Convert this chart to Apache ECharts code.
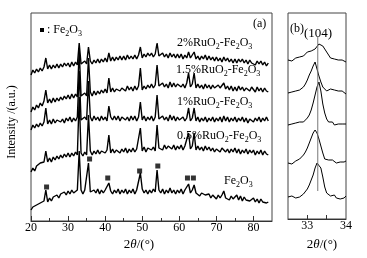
<!DOCTYPE html>
<html><head><meta charset="utf-8">
<script src="https://cdn.jsdelivr.net/npm/echarts@6/dist/echarts.min.js"></script>
<style>html,body{margin:0;padding:0;background:#fff}#c{width:367px;height:258px}</style>
</head><body><div id="c"></div>
<script>
// ---------- Panel (a) data ----------
const twoTheta = [
 20,20.5,21,21.5,22,22.5,23,23.5,24,24.5,
 25,25.5,26,26.5,27,27.5,28,28.5,29,29.5,
 30,30.5,31,31.5,32,32.5,33,33.5,34,34.5,
 35,35.5,36,36.5,37,37.5,38,38.5,39,39.5,
 40,40.5,41,41.5,42,42.5,43,43.5,44,44.5,
 45,45.5,46,46.5,47,47.5,48,48.5,49,49.5,
 50,50.5,51,51.5,52,52.5,53,53.5,54,54.5,
 55,55.5,56,56.5,57,57.5,58,58.5,59,59.5,
 60,60.5,61,61.5,62,62.5,63,63.5,64,64.5,
 65,65.5,66,66.5,67,67.5,68,68.5,69,69.5,
 70,70.5,71,71.5,72,72.5,73,73.5,74,74.5,
 75,75.5,76,76.5,77,77.5,78,78.5,79,79.5,
 80,80.5,81,81.5,82,82.5,83,83.5,84
];
const fe2o3 = [
 11,14,12,16,14,18,16,20,31,19,
 23,20,24,22,26,23,27,25,29,26,
 30,27,31,28,30,31,70,31,27,31,
 32,58,29,28,31,28,32,27,31,28,
 31,29,38,30,27,31,28,32,27,31,
 28,32,27,31,28,32,27,31,30,48,
 32,28,31,27,31,28,32,29,51,31,
 28,32,27,31,28,33,28,31,27,31,
 28,32,27,31,30,37,28,31,36,28,
 29,25,28,26,26,25,27,23,26,24,
 22,26,23,26,30,23,24,21,25,22,
 24,26,21,25,20,24,21,23,20,22,
 23,19,22,18,22,19,21,18,19
];
const ru05 = [
 49,53,50,55,54,58,56,59,70,59,
 63,59,64,61,65,62,66,63,67,64,
 68,64,68,65,69,66,124,68,65,69,
 66,106,70,66,70,67,71,67,70,72,
 68,71,86,68,72,68,71,73,68,72,
 69,73,68,72,69,73,69,72,74,93,
 70,74,69,73,75,71,74,70,96,73,
 75,71,76,72,75,77,72,76,71,75,
 72,76,71,75,75,88,72,75,88,71,
 75,71,74,70,75,71,74,70,73,69,
 72,74,69,73,75,69,72,68,72,69,
 73,68,72,67,71,68,72,67,71,68,
 71,66,70,67,71,66,70,67,66
];
const ru1 = [
 91,96,93,97,94,98,95,99,113,97,
 101,97,102,98,101,103,99,102,98,103,
 100,104,99,103,100,104,150,101,100,104,
 101,140,104,100,105,101,104,100,105,101,
 104,100,115,104,101,105,101,105,100,104,
 105,101,104,100,105,101,105,100,104,119,
 101,105,100,104,101,105,100,104,126,102,
 100,105,101,104,100,106,101,105,100,104,
 101,99,104,100,103,113,100,103,113,100,
 104,99,103,100,104,99,103,100,104,99,
 103,100,104,99,105,100,104,99,103,100,
 104,99,103,100,104,99,103,98,102,104,
 99,103,100,104,99,103,100,104,100
];
const ru15 = [
 109,114,111,116,113,118,115,120,131,118,
 122,118,123,119,123,120,124,121,125,122,
 126,122,127,123,127,124,171,125,124,128,
 125,163,129,125,130,126,130,127,131,128,
 132,128,143,129,133,129,132,134,130,133,
 134,130,135,131,134,130,135,131,135,153,
 131,135,132,136,133,137,133,136,156,135,
 133,138,134,137,133,139,134,138,134,137,
 138,134,137,133,138,148,134,137,148,133,
 137,133,136,132,137,133,136,132,136,133,
 132,136,133,131,138,132,135,131,135,130,
 134,130,135,131,134,130,133,135,130,134,
 133,129,134,130,133,129,133,130,129
];
const ru2 = [
 146,151,148,152,149,153,150,154,163,152,
 156,152,156,153,157,153,157,154,158,155,
 158,154,159,155,159,156,178,157,156,160,
 157,174,160,157,161,158,162,158,162,159,
 163,159,168,160,164,160,164,161,165,161,
 165,161,166,162,165,162,166,162,166,174,
 163,167,164,168,165,168,164,167,178,165,
 164,168,164,167,163,168,164,167,163,167,
 163,167,162,166,163,169,163,166,169,162,
 165,161,165,162,166,161,165,161,164,160,
 164,160,163,159,164,160,163,159,162,158,
 162,158,162,159,162,158,161,157,161,158,
 160,156,160,157,160,156,159,155,158
];
const markerTheta = [24.2, 35.8, 40.7, 49.3, 54.2, 62.2, 63.8];
const markerI = [34, 62, 43, 50, 55, 43, 43];
const xTicksA = [20, 30, 40, 50, 60, 70, 80];
const xMinorA = [25, 35, 45, 55, 65, 75];

// ---------- Panel (b) data ----------
const thetaB = [32.5,32.55,32.6,32.65,32.7,32.75,32.8,32.85,32.9,32.95,
 33,33.05,33.1,33.15,33.2,33.25,33.3,33.35,33.4,33.45,
 33.5,33.55,33.6,33.65,33.7,33.75,33.8,33.85,33.9,33.95,34];
const b2 = [159,160,158,160,161,160,162,161,163,164,167,165,168,169,170,172,175,176,173,170,167,164,161,159,160,158,159,157,159,158,157];
const b15 = [126,128,127,129,128,127,129,130,132,135,139,144,148,153,157,150,143,137,132,130,128,129,130,132,129,127,128,126,128,126,125];
const b1 = [94,96,95,94,96,95,97,96,97,99,101,104,109,116,124,132,137,128,115,106,100,97,95,97,94,96,95,93,95,94,95];
const b05 = [56,57,55,57,58,57,60,62,64,67,71,76,81,86,89,86,80,73,66,60,58,59,57,59,58,56,58,57,59,57,58];
const bFe = [22,21,23,22,21,23,22,24,25,27,30,34,39,44,51,56,57,51,42,32,26,24,23,22,24,21,22,20,22,21,23];
const refLineB = [[33.27, 28], [33.27, 182]];
const xTicksB = [33, 33.5];
const xLabelsB = [33, 34];

const labelsA = ['2%RuO{s|2}-Fe{s|2}O{s|3}', '1.5%RuO{s|2}-Fe{s|2}O{s|3}', '1%RuO{s|2}-Fe{s|2}O{s|3}', '0.5%RuO{s|2}-Fe{s|2}O{s|3}', 'Fe{s|2}O{s|3}'];

const FONT = '"Liberation Serif","Times New Roman",serif';
const pairs = (xs, ys) => xs.map((x, i) => [x, ys[i]]);

const richSub = {
  s: {fontSize: 8, fontFamily: FONT, lineHeight: 15, verticalAlign: 'bottom', fill: '#000'},
  i: {fontSize: 13, fontFamily: FONT, fontStyle: 'italic', lineHeight: 15, fill: '#000'}
};
function txt(text, x, y, size, extra) {
  return {
    type: 'text', silent: true,
    style: Object.assign({text: text, x: x, y: y, fontSize: size, fontFamily: FONT, fill: '#000',
      align: 'left', verticalAlign: 'middle', lineHeight: 15, rich: richSub}, extra || {})
  };
}

const lineSeries = (name, data, xi, yi, w) => ({
  name, type: 'line', xAxisIndex: xi, yAxisIndex: yi, data, symbol: 'none', showSymbol: false,
  lineStyle: {color: '#000', width: w || 1.4}, silent: true
});

const axisBase = {
  type: 'value', position: 'bottom',
  splitLine: {show: false},
  axisLine: {show: true, onZero: false, lineStyle: {color: '#333', width: 1}},
};

const option = {
  animation: false,
  backgroundColor: '#fff',
  grid: [
    {left: 31, top: 13, width: 241, height: 208, show: true, borderColor: '#444', borderWidth: 1},
    {left: 288, top: 13, width: 58, height: 206, show: true, borderColor: '#444', borderWidth: 1}
  ],
  xAxis: [
    Object.assign({}, axisBase, {gridIndex: 0, min: 20, max: 85, interval: 10,
      axisTick: {inside: true, length: 5, customValues: xTicksA, lineStyle: {color: '#333'}},
      axisLabel: {customValues: xTicksA, fontSize: 12, fontFamily: FONT, color: '#000', margin: 1}}),
    Object.assign({}, axisBase, {gridIndex: 0, min: 20, max: 85, interval: 10,
      axisLine: {show: false},
      axisTick: {inside: true, length: 3, customValues: xMinorA, lineStyle: {color: '#333'}},
      axisLabel: {show: false}}),
    Object.assign({}, axisBase, {gridIndex: 1, min: 32.5, max: 34, interval: 0.5,
      axisTick: {inside: true, length: 4, customValues: xTicksB, lineStyle: {color: '#333'}},
      axisLabel: {customValues: xLabelsB, fontSize: 12, fontFamily: FONT, color: '#000', margin: 1}})
  ],
  yAxis: [
    {gridIndex: 0, type: 'value', min: 0, max: 208, show: false, splitLine: {show: false}},
    {gridIndex: 1, type: 'value', min: 0, max: 206, show: false, splitLine: {show: false}}
  ],
  series: [
    lineSeries('Fe2O3', pairs(twoTheta, fe2o3), 0, 0),
    lineSeries('0.5%', pairs(twoTheta, ru05), 0, 0),
    lineSeries('1%', pairs(twoTheta, ru1), 0, 0),
    lineSeries('1.5%', pairs(twoTheta, ru15), 0, 0),
    lineSeries('2%', pairs(twoTheta, ru2), 0, 0),
    {type: 'scatter', xAxisIndex: 0, yAxisIndex: 0, data: pairs(markerTheta, markerI),
      symbol: 'rect', symbolSize: 5, itemStyle: {color: '#000'}, silent: true},
    lineSeries('b2', pairs(thetaB, b2), 2, 1, 1),
    lineSeries('b15', pairs(thetaB, b15), 2, 1, 1),
    lineSeries('b1', pairs(thetaB, b1), 2, 1, 1),
    lineSeries('b05', pairs(thetaB, b05), 2, 1, 1),
    lineSeries('bFe', pairs(thetaB, bFe), 2, 1, 1),
    {type: 'line', xAxisIndex: 2, yAxisIndex: 1, data: refLineB, symbol: 'none',
      lineStyle: {color: '#777', width: 1}, silent: true}
  ],
  graphic: [
    {type: 'rect', silent: true, shape: {x: 40, y: 28, width: 4, height: 4}, style: {fill: '#000'}},
    txt(' : Fe{s|2}O{s|3}', 44, 30, 12),
    txt('(a)', 253, 24, 12),
    txt(labelsA[0], 177, 43, 12),
    txt(labelsA[1], 176, 70, 12),
    txt(labelsA[2], 177, 102, 12),
    txt(labelsA[3], 177, 136, 12),
    txt(labelsA[4], 224, 181, 12),
    txt('(b)', 290, 29, 12),
    txt('(104)', 304, 34, 13),
    txt('2{i|θ}/(°)', 139, 245, 13, {align: 'center'}),
    txt('2{i|θ}/(°)', 322, 245, 13, {align: 'center'}),
    {type: 'text', silent: true, x: 12, y: 122, rotation: Math.PI / 2,
      style: {text: 'Intensity /(a.u.)', x: 0, y: 0, fontSize: 12, fontFamily: FONT, fill: '#000',
        align: 'center', verticalAlign: 'middle'}}
  ]
};
const chart = echarts.init(document.getElementById('c'));
chart.setOption(option);
</script>
</body></html>
